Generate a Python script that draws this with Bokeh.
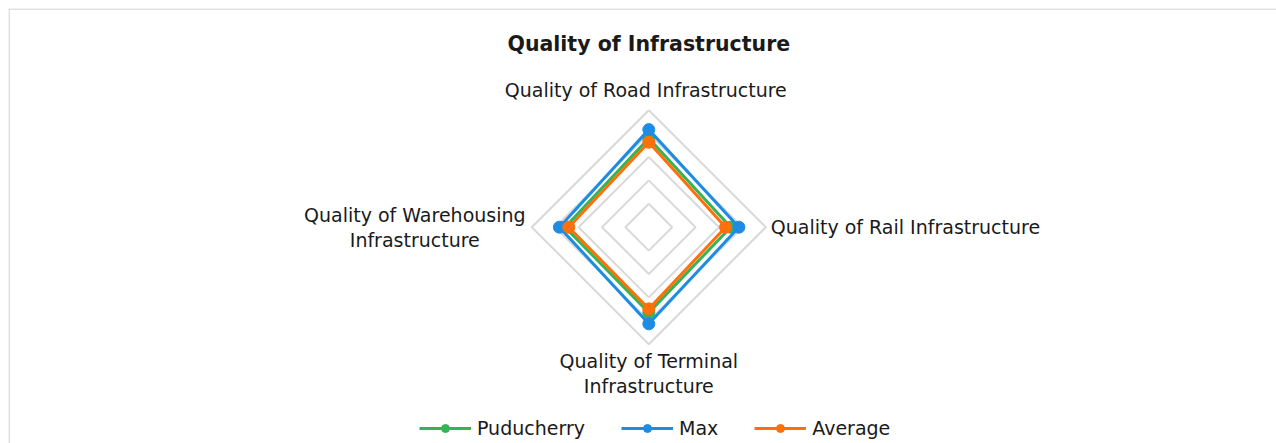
import numpy as np
from bokeh.plotting import figure
from bokeh.models import Range1d, Legend, LegendItem, ColumnDataSource, Label, Span
from bokeh.embed import file_html
from bokeh.resources import INLINE

title = "Quality of Infrastructure"
categories = ["Quality of Road Infrastructure", "Quality of Rail Infrastructure",
              "Quality of Terminal\nInfrastructure", "Quality of Warehousing\nInfrastructure"]
series_names = ["Puducherry", "Max", "Average"]
puducherry = [3.8, 3.5, 3.65, 3.58]
max_vals = [4.17, 3.85, 4.13, 3.82]
average = [3.63, 3.28, 3.49, 3.42]
rings = [1, 2, 3, 4, 5]

colors = ["#35b456", "#1e8ce3", "#ff6f0a"]
FONT = "DejaVu Sans"

W, H = 1276, 443
ML, MT = 8, 8
FW, FH = W - ML, H - MT
PX = 23.4  # pixels per unit
cx, cy = 640.3, 218.7  # center in frame px (from left, from top)

x0, x1 = -cx / PX, (FW - cx) / PX
y0, y1 = -(FH - cy) / PX, cy / PX
p = figure(width=W, height=H, output_backend="svg", toolbar_location=None,
           x_range=Range1d(x0, x1), y_range=Range1d(y0, y1),
           min_border_left=ML, min_border_top=MT, min_border_right=0, min_border_bottom=0,
           background_fill_color="white", border_fill_color="white")
p.axis.visible = False
p.grid.visible = False
p.outline_line_color = None
p.add_layout(Span(location=x0 + 0.6 / PX, dimension="height", line_color="#d9d9d9", line_width=1.5))
p.add_layout(Span(location=y1 - 0.6 / PX, dimension="width", line_color="#d9d9d9", line_width=1.5))

angles = np.pi / 2 - np.arange(4) * np.pi / 2

for r in rings:
    xs = list(r * np.cos(angles)) + [r * np.cos(angles[0])]
    ys = list(r * np.sin(angles)) + [r * np.sin(angles[0])]
    p.line(xs, ys, line_color="#d9d9d9", line_width=2)

items = []
for name, vals, col in zip(series_names, [puducherry, max_vals, average], colors):
    v = np.array(vals)
    xs = v * np.cos(angles)
    ys = v * np.sin(angles)
    src = ColumnDataSource(dict(x=list(xs) + [xs[0]], y=list(ys) + [ys[0]]))
    l = p.line("x", "y", source=src, line_color=col, line_width=3)
    s = p.scatter(x=list(xs), y=list(ys), size=12, fill_color=col, line_color=col)
    items.append(LegendItem(label=name, renderers=[l, s]))

# labels
R = rings[-1]
lab_style = dict(text_font=FONT, text_font_size="19px", text_color="#1a1a1a", text_line_height=1.13)
p.add_layout(Label(x=0, y=R, x_offset=-3, y_offset=20, text=categories[0], text_align="center",
                   text_baseline="middle", **lab_style))
p.add_layout(Label(x=R, y=0, x_offset=5, text=categories[1], text_align="left",
                   text_baseline="middle", **lab_style))
p.add_layout(Label(x=0, y=-R, y_offset=-6, text=categories[2], text_align="center",
                   text_baseline="top", **lab_style))
p.add_layout(Label(x=-R, y=0, x_offset=-117, text=categories[3], text_align="center",
                   text_baseline="middle", **lab_style))
p.add_layout(Label(x=0, y=R, y_offset=66, text=title, text_align="center",
                   text_baseline="middle", text_font=FONT, text_font_size="20.5px",
                   text_font_style="bold", text_color="#1a1a1a"))

legend = Legend(items=items, orientation="horizontal", location=(411, 4),
                glyph_width=52, glyph_height=20, label_standoff=6, spacing=36,
                padding=0, margin=0, border_line_color=None, background_fill_alpha=0,
                label_text_font=FONT, label_text_font_size="19px", label_text_color="#1a1a1a")
p.add_layout(legend, "center")

open("out.html", "w").write(file_html(p, INLINE))
